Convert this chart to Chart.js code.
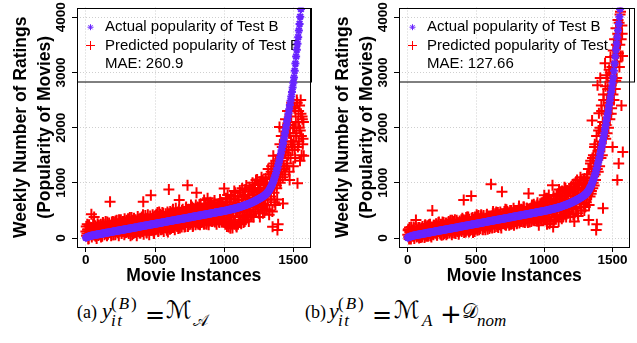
<!DOCTYPE html>
<html><head><meta charset="utf-8">
<script src="https://cdn.jsdelivr.net/npm/chart.js@4/dist/chart.umd.min.js"></script>
<style>
html,body{margin:0;padding:0;background:#fff}
body{width:637px;height:343px;overflow:hidden;position:relative}
canvas{position:absolute;top:0}
#ca{left:0}
#cb{left:322px}
.t{position:absolute;line-height:1;white-space:nowrap;color:#000;font-family:"Liberation Serif","Times New Roman",serif;font-size:18px}
.m{font-size:22px}
.s{font-size:17px}
.i{font-style:italic}
.op{font-family:"DejaVu Sans",sans-serif}
.cal{font-family:"DejaVu Sans","DejaVu Serif","Noto Sans",serif}
</style></head>
<body>
<canvas id="ca" width="318" height="290"></canvas>
<canvas id="cb" width="315" height="290"></canvas>

<span class="t" style="left:77px;top:303px">(a)</span>
<span class="t m i" style="left:102px;top:299.6px">y</span>
<span class="t s" style="left:111px;top:294.6px;letter-spacing:2px">(<i>B</i>)</span>
<span class="t s i" style="left:111px;top:311.8px;letter-spacing:1.5px">it</span>
<span class="t op" style="left:145px;top:302.6px;font-size:24px">=</span>
<span class="t cal" style="left:166px;top:298px;font-size:24px">ℳ</span>
<span class="t cal" style="left:193px;top:312.5px;font-size:16px">𝒜</span>

<span class="t" style="left:305px;top:303px">(b)</span>
<span class="t m i" style="left:329px;top:299.6px">y</span>
<span class="t s" style="left:338px;top:294.6px;letter-spacing:2px">(<i>B</i>)</span>
<span class="t s i" style="left:338px;top:311.8px;letter-spacing:1.5px">it</span>
<span class="t op" style="left:372px;top:302.6px;font-size:24px">=</span>
<span class="t cal" style="left:394px;top:298px;font-size:24px">ℳ</span>
<span class="t s i" style="left:422px;top:311.8px">A</span>
<span class="t op" style="left:440px;top:301.4px;font-size:26px">+</span>
<span class="t cal" style="left:462px;top:301px;font-size:20px">𝒟</span>
<span class="t s i" style="left:477px;top:311.8px">nom</span>

<script>
// ---- data (movie instance index, sorted by actual popularity) ----
const instances = [
0,5,10,15,20,25,30,35,40,45,50,55,60,65,70,75,80,85,90,95,
100,105,110,115,120,125,130,135,140,145,150,155,160,165,170,175,180,185,190,195,
200,205,210,215,220,225,230,235,240,245,250,255,260,265,270,275,280,285,290,295,
300,305,310,315,320,325,330,335,340,345,350,355,360,365,370,375,380,385,390,395,
400,405,410,415,420,425,430,435,440,445,450,455,460,465,470,475,480,485,490,495,
500,505,510,515,520,525,530,535,540,545,550,555,560,565,570,575,580,585,590,595,
600,605,610,615,620,625,630,635,640,645,650,655,660,665,670,675,680,685,690,695,
700,705,710,715,720,725,730,735,740,745,750,755,760,765,770,775,780,785,790,795,
800,805,810,815,820,825,830,835,840,845,850,855,860,865,870,875,880,885,890,895,
900,905,910,915,920,925,930,935,940,945,950,955,960,965,970,975,980,985,990,995,
1000,1005,1010,1015,1020,1025,1030,1035,1040,1045,1050,1055,1060,1065,1070,1075,1080,1085,1090,1095,
1100,1105,1110,1115,1120,1125,1130,1135,1140,1145,1150,1155,1160,1165,1170,1175,1180,1185,1190,1195,
1200,1205,1210,1215,1220,1225,1230,1235,1240,1245,1250,1255,1260,1265,1270,1275,1280,1285,1290,1295,
1300,1305,1310,1315,1320,1325,1330,1335,1340,1345,1350,1355,1360,1365,1370,1375,1380,1385,1390,1395,
1400,1405,1410,1415,1420,1425,1430,1435,1440,1445,1450,1455,1460,1465,1470,1475,1480,1485,1490,1495,
1500,1505,1510,1515,1520,1525,1530,1535,1540,1545,1550,1555,1560,1565,1570,1575];

const actualTestB = [
5,12,18,23,28,32,36,40,43,46,49,51,53,56,58,60,62,65,67,70,
72,74,76,79,81,83,85,88,90,93,95,97,99,102,104,107,109,111,113,116,
118,121,123,125,127,130,132,135,137,139,141,144,146,149,151,153,155,158,160,163,
165,167,169,172,174,176,178,181,183,186,188,190,192,195,197,199,202,204,206,209,
211,213,216,218,220,223,225,227,230,232,234,237,239,241,244,246,248,251,253,255,
258,260,262,264,267,269,271,274,276,278,281,283,285,288,290,292,295,297,299,302,
304,306,309,311,313,316,318,320,323,325,327,330,332,334,337,339,341,344,346,348,
351,353,355,357,360,362,364,367,369,371,374,376,378,381,383,385,388,390,392,395,
397,399,402,404,406,409,411,413,416,418,420,423,425,427,430,432,434,437,439,441,
444,446,448,451,453,455,458,460,462,465,467,469,472,474,476,479,481,483,486,488,
490,493,496,498,501,504,507,510,513,516,519,522,525,528,531,535,538,541,545,548,
552,555,559,563,567,571,575,579,583,587,592,596,601,606,611,616,621,626,632,637,
643,649,655,661,667,673,680,686,693,700,707,714,721,728,736,744,752,761,770,780,
790,802,815,830,847,866,887,910,935,962,992,1025,1060,1098,1138,1180,1224,1270,1318,1368,
1420,1474,1530,1588,1648,1710,1774,1840,1908,1978,2050,2120,2190,2262,2335,2410,2486,2565,2645,2728,
2812,2910,3030,3160,3290,3410,3520,3640,3760,3880,4010,4150,4320,4550,4900,5600];

// (a) predicted with M_A, at the instances above
const predictedA = [
120,40,250,160,-10,210,90,180,430,130,60,240,380,150,30,200,110,260,45,170,
140,230,20,190,95,270,130,60,250,175,110,290,70,210,150,656,90,240,130,300,
60,230,170,310,120,260,200,90,330,150,280,180,110,300,220,140,350,190,100,270,
200,350,80,290,130,240,370,60,310,180,260,100,330,210,150,390,120,280,230,90,
230,380,120,656,300,170,410,260,90,350,200,330,140,400,777,240,180,370,110,300,
300,150,430,220,380,130,470,270,190,410,340,160,450,250,390,200,300,140,470,230,
880,220,480,170,400,300,520,190,440,260,540,350,210,470,280,687,180,420,330,500,
520,250,460,380,210,560,300,958,430,240,500,350,600,280,470,220,540,330,410,600,
820,270,560,350,460,240,620,380,300,520,410,690,260,580,330,470,720,290,600,380,
650,350,520,300,590,420,680,330,470,250,560,390,620,280,700,360,540,300,640,430,
898,330,650,420,210,780,500,280,600,175,720,380,180,560,700,250,820,460,200,640,
250,690,400,820,330,560,900,460,280,780,520,330,950,600,400,840,500,720,420,880,
420,1000,560,780,900,480,1050,620,760,980,450,850,1020,600,1100,700,450,980,820,600,
1080,520,950,700,1150,420,1000,750,1200,900,205,1490,820,1250,600,1100,900,145,250,1150,
2013,1000,1400,1250,1650,627,1300,1750,1150,1550,1850,1350,2050,1600,1200,1900,1450,2200,1700,2400,
1300,2000,1600,2300,1850,2500,990,2100,1750,2400,1950,2250,1500,2150,1800,1490];

// (b) predicted with M_A + D_nom, at the instances above
const predictedB = [
60,160,-20,110,10,200,90,140,30,180,50,120,325,20,150,80,40,190,100,10,
180,20,160,90,60,220,130,30,200,110,60,240,150,40,190,100,500,70,230,120,
210,90,250,50,160,280,120,200,70,240,130,290,60,190,230,100,270,150,80,250,
300,90,270,140,220,320,100,250,170,330,80,230,290,150,200,110,310,180,240,120,
360,150,687,240,320,110,280,380,160,220,340,130,300,760,200,370,170,260,120,350,
200,420,140,390,260,330,170,400,230,300,150,410,280,190,360,250,430,160,340,220,
280,200,976,400,250,480,330,190,440,270,380,210,460,300,240,420,350,180,837,290,
260,440,300,520,230,380,480,270,410,330,500,250,460,300,390,540,280,430,350,500,
270,500,330,580,400,300,520,360,450,290,560,380,470,320,540,410,280,807,440,520,
540,300,600,360,470,330,580,420,520,310,640,380,230,500,620,350,560,430,380,660,
777,340,660,420,250,720,500,380,600,300,700,460,958,200,620,520,700,340,780,420,
800,300,620,760,480,380,850,560,400,760,520,900,380,680,820,450,620,900,380,760,
940,520,760,980,300,640,900,560,1050,450,800,980,620,1100,500,880,700,980,620,1080,
560,1000,700,1150,850,325,1250,750,1400,850,2130,900,1500,950,1700,1050,145,250,2767,1200,
2260,1300,2900,1450,2300,1500,540,2500,1650,3165,1800,2948,1900,2700,2000,3050,2150,3280,2250,3100,
1650,3400,2500,3600,2700,3800,2900,1050,3950,1350,3100,4050,3300,2400,3700,1560];

// further movie instances (between the ones above) with their predictions
const instances2 = [
3,8,13,18,23,28,33,38,43,48,53,58,63,68,73,78,83,88,93,98,
103,108,113,118,123,128,133,138,143,148,153,158,163,168,173,178,183,188,193,198,
203,208,213,218,223,228,233,238,243,248,253,258,263,268,273,278,283,288,293,298,
303,308,313,318,323,328,333,338,343,348,353,358,363,368,373,378,383,388,393,398,
403,408,413,418,423,428,433,438,443,448,453,458,463,468,473,478,483,488,493,498,
503,508,513,518,523,528,533,538,543,548,553,558,563,568,573,578,583,588,593,598,
603,608,613,618,623,628,633,638,643,648,653,658,663,668,673,678,683,688,693,698,
703,708,713,718,723,728,733,738,743,748,753,758,763,768,773,778,783,788,793,798,
803,808,813,818,823,828,833,838,843,848,853,858,863,868,873,878,883,888,893,898,
903,908,913,918,923,928,933,938,943,948,953,958,963,968,973,978,983,988,993,998,
1003,1008,1013,1018,1023,1028,1033,1038,1043,1048,1053,1058,1063,1068,1073,1078,1083,1088,1093,1098,
1103,1108,1113,1118,1123,1128,1133,1138,1143,1148,1153,1158,1163,1168,1173,1178,1183,1188,1193,1198,
1203,1208,1213,1218,1223,1228,1233,1238,1243,1248,1253,1258,1263,1268,1273,1278,1283,1288,1293,1298,
1303,1308,1313,1318,1323,1328,1333,1338,1343,1348,1353,1358,1363,1368,1373,1378,1383,1388,1393,1398,
1403,1408,1413,1418,1423,1428,1433,1438,1443,1448,1453,1458,1463,1468,1473,1478,1483,1488,1493,1498,
1503,1508,1513,1518,1523,1528,1533,1538,1543,1548,1553,1558,1563,1568,1573];

const predictedA2 = [
210,80,150,-20,240,120,60,190,20,160,260,100,50,220,140,-10,180,70,230,110,
60,250,180,30,280,120,210,80,300,150,40,230,170,270,100,200,40,290,160,60,
290,140,60,240,320,100,200,40,270,160,330,80,230,120,300,60,250,170,320,130,
110,280,170,370,40,230,320,150,80,360,200,120,290,40,250,330,170,90,360,200,
150,320,420,70,250,180,360,110,290,420,170,60,260,350,140,300,420,200,80,260,
410,190,280,460,120,350,240,430,150,300,460,200,120,380,260,440,170,360,110,400,
350,160,300,440,200,500,250,370,150,330,460,240,400,170,510,300,250,460,200,380,
300,470,200,420,540,280,380,210,520,330,450,250,380,560,210,480,300,440,240,500,
450,330,250,500,600,300,420,280,540,360,250,480,600,330,250,550,400,240,500,310,
400,620,300,480,360,640,290,560,420,330,610,470,300,560,360,650,290,500,420,300,
560,250,720,350,600,420,200,650,480,300,760,240,520,400,850,300,640,220,500,760,
600,380,860,520,260,700,400,760,560,300,880,640,420,560,720,300,920,560,640,400,
700,880,380,640,960,520,820,1060,560,900,700,380,960,560,820,1050,620,900,500,980,
780,1000,600,1250,850,500,1100,700,1300,480,1000,1350,650,1150,1400,950,700,1300,1050,1500,
1700,1200,1850,1450,1100,2000,1550,1250,2150,1650,1300,2300,1500,1900,1050,2050,1750,2450,1600,2000,
1750,2350,1450,2100,1900,2450,1650,2300,2000,1400,2500,1850,2200,1700,2100];

const predictedB2 = [
140,20,190,70,-20,150,100,40,200,-10,130,60,170,30,110,190,0,140,80,160,
40,210,100,170,10,240,60,140,220,30,180,90,250,120,20,200,150,60,230,90,
150,260,60,220,120,290,90,180,250,50,200,140,280,80,170,240,60,210,130,280,
200,110,320,170,60,260,190,300,90,150,240,320,120,200,70,280,140,230,330,160,
240,330,100,290,190,370,140,250,380,110,200,300,150,360,230,100,310,190,380,160,
330,180,270,410,150,350,220,420,260,160,380,210,330,150,300,410,200,270,380,170,
390,230,340,180,450,270,400,210,360,470,240,310,190,420,260,470,220,380,300,430,
320,480,240,400,510,290,350,450,230,420,310,500,260,440,340,230,480,300,420,260,
430,330,530,270,460,390,300,510,350,560,400,280,480,360,540,300,450,380,290,500,
380,560,430,320,610,470,350,540,410,600,310,480,360,570,420,320,610,460,350,540,
560,380,720,300,640,460,780,260,560,680,380,600,470,760,320,640,560,420,700,600,
560,880,420,640,720,350,800,600,480,920,540,700,440,860,580,760,480,880,620,520,
600,840,420,900,700,1000,540,760,880,400,960,680,800,1060,560,920,760,1040,500,860,
900,650,1100,780,1250,600,1000,1350,800,1200,1450,1000,1300,1650,1150,1500,1850,1250,1650,1950,
1600,2000,1750,2400,1900,2100,2600,1850,2300,2750,2050,2500,2900,2250,2600,2450,3000,2700,2350,2850,
2600,3100,2900,3300,2850,3500,3200,3700,3350,3900,3500,4100,3600,3850,3300];

const xTicks = [0, 500, 1000, 1500];
const yTicks = [0, 1000, 2000, 3000, 4000];
const seriesLabels = ['Actual popularity of Test B', 'Predicted popularity of Test B'];
const maeA = 'MAE: 260.9';
const maeB = 'MAE: 127.66';

// ---- drawing ----
const BLUE = 'rgb(104,36,255)';
const RED = '#ff0000';
const SANS = '"Liberation Sans", Arial, Helvetica, sans-serif';

const rFrame = {
  id: 'rframe',
  beforeDatasetsDraw(chart, args, o) {
    const {ctx, chartArea: a} = chart;
    ctx.save();
    ctx.strokeStyle = '#000';
    ctx.lineWidth = 1;
    ctx.strokeRect(Math.round(a.left) + 0.5, Math.round(a.top) + 0.5, o.boxW, o.boxH);
    const mx = a.left + 13.5, tx = a.left + 28;
    const rows = [a.top + 19.7, a.top + 38, a.top + 56.3];
    ctx.strokeStyle = BLUE; ctx.fillStyle = BLUE;
    Chart.helpers.drawPoint(ctx, {pointStyle: 'star', radius: 3, borderWidth: 1.5, rotation: 0}, mx, rows[0]);
    ctx.strokeStyle = RED; ctx.fillStyle = RED;
    Chart.helpers.drawPoint(ctx, {pointStyle: 'cross', radius: 4.5, borderWidth: 1.5, rotation: 0}, mx, rows[1]);
    ctx.fillStyle = '#000';
    ctx.font = '15px ' + SANS;
    ctx.textAlign = 'left';
    ctx.textBaseline = 'middle';
    ctx.fillText(seriesLabels[0], tx, rows[0]);
    ctx.fillText(seriesLabels[1], tx, rows[1]);
    ctx.fillText(o.mae, tx, rows[2]);
    ctx.restore();
  },
  afterDraw(chart) {
    const {ctx, chartArea: a} = chart;
    ctx.save();
    ctx.strokeStyle = '#000';
    ctx.lineWidth = 1;
    ctx.strokeRect(Math.round(a.left) + 0.5, Math.round(a.top) + 0.5,
      Math.round(a.right) - Math.round(a.left) - 1, Math.round(a.bottom) - Math.round(a.top));
    ctx.restore();
  }
};

function build(id, predicted, predicted2, mae, padRight, boxW) {
  const tickFont = {family: SANS, size: 13.5, weight: 'bold'};
  const titleFont = {family: SANS, size: 17.5, weight: 'bold'};
  const predPoints = instances.map((x, i) => ({x: x, y: predicted[i]}))
    .concat(instances2.map((x, i) => ({x: x, y: predicted2[i]})));
  return new Chart(document.getElementById(id), {
    type: 'scatter',
    data: {
      datasets: [
        {
          label: seriesLabels[0],
          data: instances.map((x, i) => ({x: x, y: actualTestB[i]})),
          pointStyle: 'star', pointRadius: 4, pointBorderWidth: 2,
          pointBorderColor: BLUE, pointBackgroundColor: BLUE,
          borderColor: BLUE, backgroundColor: BLUE
        },
        {
          label: seriesLabels[1],
          data: predPoints,
          pointStyle: 'cross', pointRadius: 5.5, pointBorderWidth: 2,
          pointBorderColor: RED, pointBackgroundColor: RED,
          borderColor: RED, backgroundColor: RED
        }
      ]
    },
    options: {
      animation: false, responsive: false, events: [],
      layout: {padding: {left: 0, top: 7, right: padRight, bottom: 0}},
      plugins: {legend: {display: false}, tooltip: {enabled: false}, rframe: {mae: mae, boxW: boxW, boxH: 73.5}},
      scales: {
        x: {
          type: 'linear', min: -64, max: 1624,
          afterBuildTicks: s => { s.ticks = xTicks.map(v => ({value: v})); },
          afterFit: s => { s.height = 43; },
          grid: {color: '#cfcfcf', lineWidth: 1, tickColor: '#000', tickLength: 5, drawTicks: true},
          border: {display: false, dash: [1, 2]},
          ticks: {font: tickFont, color: '#000', padding: 0, maxRotation: 0, autoSkip: false, callback: v => String(v)},
          title: {display: true, text: 'Movie Instances', font: titleFont, color: '#000', padding: {top: 0, bottom: 3}}
        },
        y: {
          type: 'linear', min: -163, max: 4177,
          afterBuildTicks: s => { s.ticks = yTicks.map(v => ({value: v})); },
          afterFit: s => { s.width = 77; },
          grid: {color: '#cfcfcf', lineWidth: 1, tickColor: '#000', tickLength: 5, drawTicks: true},
          border: {display: false, dash: [1, 2]},
          ticks: {font: tickFont, color: '#000', padding: -4, minRotation: 90, maxRotation: 90, crossAlign: 'center', autoSkip: false, callback: v => String(v)},
          title: {display: true, text: ['Weekly Number of Ratings', '(Popularity of Movies)'],
                  font: {family: SANS, size: 17.5, weight: 'bold', lineHeight: 24 / 17.5}, color: '#000', padding: {top: 9.5, bottom: 0}}
        }
      }
    },
    plugins: [rFrame]
  });
}

build('ca', predictedA, predictedA2, maeA, 3, 234);
build('cb', predictedB, predictedB2, maeB, 1, 235);
</script>
</body></html>
